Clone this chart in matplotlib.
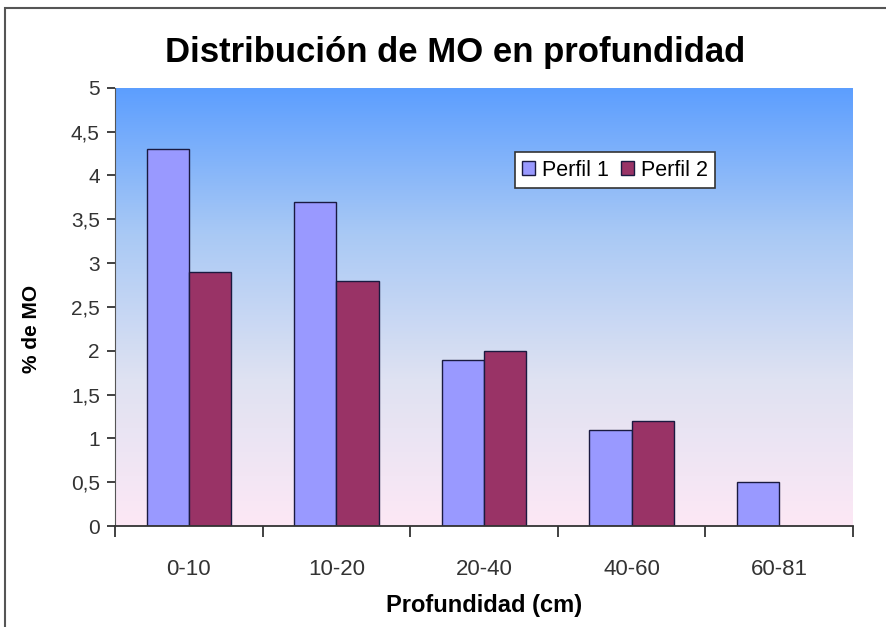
import matplotlib.pyplot as plt
import numpy as np
from matplotlib.colors import LinearSegmentedColormap
from matplotlib.patches import Rectangle

categories = ['0-10', '10-20', '20-40', '40-60', '60-81']
perfil1 = [4.3, 3.7, 1.9, 1.1, 0.5]
perfil2 = [2.9, 2.8, 2.0, 1.2, 0.0]
yticks = [0, 0.5, 1, 1.5, 2, 2.5, 3, 3.5, 4, 4.5, 5]
ytick_labels = ['0', '0,5', '1', '1,5', '2', '2,5', '3', '3,5', '4', '4,5', '5']

plt.rcParams['font.family'] = ['Liberation Sans', 'DejaVu Sans']

fig = plt.figure(figsize=(8.87, 6.27), dpi=100)
fig.patches.append(Rectangle((0.006, -0.01), 1.2, 0.997, transform=fig.transFigure,
                             fill=False, edgecolor='#555555', linewidth=1.5))
ax = fig.add_axes([0.1297, 0.161, 0.832, 0.699])

# gradient background of plot area
grad = np.linspace(0, 1, 256).reshape(-1, 1)
cmap = LinearSegmentedColormap.from_list('bg', ['#5c9eff', '#a9c9f5', '#dfe2f2', '#fde8f5'])
ax.imshow(grad, cmap=cmap, aspect='auto', extent=[0, 1, 0, 1],
          transform=ax.transAxes, zorder=0, origin='upper')

x = np.arange(len(categories))
w = 1 / 3.5
ax.bar(x - w / 2, perfil1, w, color='#9999ff', edgecolor='#1a1a40', linewidth=1,
       label='Perfil 1', zorder=2)
bars2 = ax.bar(x + w / 2, perfil2, w, color='#993366', edgecolor='#1a1a40', linewidth=1,
               label='Perfil 2', zorder=2)
for b, v in zip(bars2, perfil2):
    if v == 0:
        b.set_visible(False)

ax.set_xlim(-0.5, len(categories) - 0.5)
ax.set_ylim(0, 5)
ax.set_yticks(yticks)
ax.set_yticklabels(ytick_labels)
ax.set_xticks(x)
ax.set_xticklabels(categories)
ax.set_xticks(np.arange(-0.5, len(categories)), minor=True)
ax.tick_params(axis='x', which='major', length=0, pad=24, labelsize=16, labelcolor='#333333')
ax.tick_params(axis='x', which='minor', length=8, width=1.3, color='#333333', direction='out')
ax.tick_params(axis='y', length=6, width=1.3, color='#333333', labelsize=15,
               labelcolor='#333333', pad=5)

for s in ['top', 'right']:
    ax.spines[s].set_visible(False)
ax.spines['bottom'].set_color('#333333')
ax.spines['bottom'].set_linewidth(1.3)
ax.spines['left'].set_color('#555555')
ax.spines['left'].set_linewidth(0.8)

ax.set_ylabel('% de MO', fontsize=15, fontweight='bold')
ax.yaxis.set_label_coords(-0.1, 0.45)
ax.set_xlabel('Profundidad (cm)', fontsize=17, fontweight='bold', labelpad=10)
fig.suptitle('Distribución de MO en profundidad', x=0.513, y=0.942, fontsize=25,
             fontweight='bold')

leg = ax.legend(loc='upper left', bbox_to_anchor=(0.527, 0.878), ncol=2, fontsize=15.5,
                frameon=True, fancybox=False, handlelength=0.6, handleheight=0.6,
                handletextpad=0.3, columnspacing=0.6, borderpad=0.35,
                edgecolor='#333333', framealpha=1)
leg.get_frame().set_linewidth(1.2)

fig.savefig('out.png', dpi=100)
